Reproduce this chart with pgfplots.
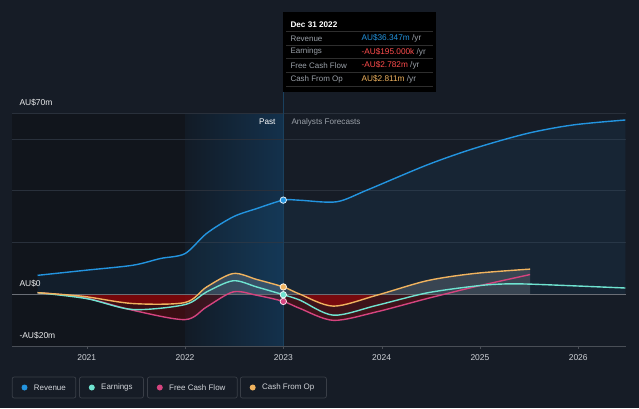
\documentclass[border=0pt]{standalone}
\usepackage{pgfplots}
\pgfplotsset{compat=1.18}
\usepgfplotslibrary{fillbetween}
\usepackage{fontspec}
\setmainfont{Liberation Sans}

\definecolor{bg}{HTML}{161C26}
\definecolor{bgdark}{HTML}{11151C}
\definecolor{gridc}{HTML}{29303B}
\definecolor{rev}{HTML}{2394DF}
\definecolor{earn}{HTML}{6FE3D0}
\definecolor{fcf}{HTML}{D5447F}
\definecolor{cfo}{HTML}{F0B35F}
\definecolor{txt}{HTML}{D0D3D8}
\definecolor{dimtxt}{HTML}{9AA0A8}
\definecolor{negred}{HTML}{FF4D4D}
\definecolor{hlL}{HTML}{121B26}
\definecolor{hlR}{HTML}{13314C}
\definecolor{zeroc}{HTML}{6A6E76}
\pagecolor{bg}

\begin{document}%
\begin{tikzpicture}[x=1bp,y=1bp]
\begin{axis}[
    set layers,
    at={(12bp,62bp)}, anchor=south west,
    scale only axis, width=614.4bp, height=233bp,
    xmin=2020.24, xmax=2026.49, ymin=-20, ymax=70,
    axis x line*=bottom, axis y line*=left,
    x axis line style={draw=white!22!bg, line width=0.9pt},
    y axis line style={draw=none},
    xtick={2021,2022,2023,2024,2025,2026},
    xticklabel style={font=\fontsize{8.5}{10}\selectfont, text=txt, yshift=-2bp},
    /pgf/number format/1000 sep={},
    /pgf/number format/assume math mode=true,
    major tick length=3bp, tick align=outside,
    x tick style={draw=white!22!bg},
    ytick={-20,0,20,40,60,70}, yticklabels={},
    y tick style={draw=none},
    ymajorgrids, grid style={draw=gridc, line width=0.6pt},
    clip=false,
]
\begin{pgfonlayer}{axis background}
\fill[bgdark] (axis cs:2020.24,-20) rectangle (axis cs:2022,70);
\shade[left color=hlL, right color=hlR] (axis cs:2022,-20) rectangle (axis cs:2023,70);
\end{pgfonlayer}
\draw[rev!30!bg, line width=0.6pt] (axis cs:2023,-20) -- (axis cs:2023,70);

\addplot[draw=none, name path=zero] coordinates {(2020.5,0) (2026.48,0)};
\addplot[draw=none, name path=zerob] coordinates {(2020.5,0) (2025.51,0)};

\addplot[rev, line width=1.4pt, smooth, tension=0.5, name path=rev] coordinates {
(2020.50,7.3) (2021.00,9.3) (2021.47,11.2) (2021.75,13.8) (2022.00,15.7)
(2022.22,23.5) (2022.49,29.9) (2022.73,33.1) (2023.00,36.35) (2023.17,36.3)
(2023.54,35.7) (2023.85,40.2) (2024.46,49.9) (2024.94,56.3) (2025.48,62.1)
(2025.95,65.4) (2026.48,67.3)};

\addplot[draw=none, smooth, tension=0.5, name path=fcf] coordinates {
(2020.50,0.6) (2020.96,-1.2) (2021.47,-6.2) (2022.00,-9.8) (2022.22,-4.9)
(2022.49,0.9) (2022.73,-0.4) (2023.00,-2.78) (2023.17,-5.5) (2023.51,-10.1)
(2023.95,-6.8) (2024.46,-1.7) (2024.94,2.8) (2025.51,7.6)};

\addplot[draw=none, smooth, tension=0.5, name path=cfo] coordinates {
(2020.50,0.6) (2020.96,-0.8) (2021.47,-3.6) (2022.00,-3.2) (2022.22,2.8)
(2022.49,8.0) (2022.73,5.7) (2023.00,2.81) (2023.17,0.0) (2023.51,-4.6)
(2023.95,-0.4) (2024.46,5.2) (2024.94,8.0) (2025.51,9.7)};

\addplot[fill=rev, fill opacity=0.08, draw=none] fill between[of=rev and zero];

\begin{scope}
\clip (axis cs:2020.24,-20) rectangle (axis cs:2026.49,0);
\addplot[fill=red!60!black, fill opacity=0.3, draw=none] fill between[of=fcf and zerob, on layer=main];
\addplot[fill=red!75!black, fill opacity=0.45, draw=none] fill between[of=cfo and zerob, on layer=main];
\end{scope}
\begin{scope}
\clip (axis cs:2020.24,0) rectangle (axis cs:2026.49,20);
\addplot[fill=white, fill opacity=0.15, draw=none] fill between[of=cfo and zerob, on layer=main];
\end{scope}

\draw[zeroc, line width=1.4pt] (axis cs:2020.24,0) -- (axis cs:2026.49,0);

\addplot[fcf, line width=1.4pt, smooth, tension=0.5] coordinates {
(2020.50,0.6) (2020.96,-1.2) (2021.47,-6.2) (2022.00,-9.8) (2022.22,-4.9)
(2022.49,0.9) (2022.73,-0.4) (2023.00,-2.78) (2023.17,-5.5) (2023.51,-10.1)
(2023.95,-6.8) (2024.46,-1.7) (2024.94,2.8) (2025.51,7.6)};
\addplot[earn, line width=1.4pt, smooth, tension=0.5] coordinates {
(2020.50,0.6) (2021.00,-1.7) (2021.47,-5.9) (2022.00,-4.0) (2022.22,0.9)
(2022.49,5.2) (2022.73,2.8) (2023.00,-0.2) (2023.17,-2.3) (2023.51,-8.1)
(2023.95,-4.3) (2024.46,0.5) (2024.94,3.1) (2025.20,3.9) (2025.51,3.9)
(2026.48,2.4)};
\addplot[cfo, line width=1.4pt, smooth, tension=0.5] coordinates {
(2020.50,0.6) (2020.96,-0.8) (2021.47,-3.6) (2022.00,-3.2) (2022.22,2.8)
(2022.49,8.0) (2022.73,5.7) (2023.00,2.81) (2023.17,0.0) (2023.51,-4.6)
(2023.95,-0.4) (2024.46,5.2) (2024.94,8.0) (2025.51,9.7)};

\addplot[only marks, mark=*, mark size=3.2bp, mark options={fill=rev, draw=white!85!rev, line width=0.8pt}] coordinates {(2023,36.347)};
\addplot[only marks, mark=*, mark size=3.2bp, mark options={fill=cfo, draw=white!85!cfo, line width=0.8pt}] coordinates {(2023,2.811)};
\addplot[only marks, mark=*, mark size=3.2bp, mark options={fill=earn, draw=white!85!earn, line width=0.8pt}] coordinates {(2023,-0.195)};
\addplot[only marks, mark=*, mark size=3.2bp, mark options={fill=fcf, draw=white!85!fcf, line width=0.8pt}] coordinates {(2023,-2.782)};
\end{axis}

% y labels
\node[anchor=west, text=white!92!bg, font=\fontsize{8.5}{10}\selectfont] at (16,305) {AU\$70m};
\node[anchor=west, text=white!92!bg, font=\fontsize{8.5}{10}\selectfont] at (16,124) {AU\$0};
\node[anchor=west, text=white!92!bg, font=\fontsize{8.5}{10}\selectfont] at (16,72) {-AU\$20m};

% past / forecast
\node[anchor=east, text=white, font=\fontsize{8.2}{10}\selectfont] at (279,286) {Past};
\node[anchor=west, text=dimtxt, font=\fontsize{8.2}{10}\selectfont] at (288,286) {Analysts Forecasts};

% tooltip
\draw[rev!30!bg, line width=0.6pt] (283,316) -- (283,295);
\fill[black] (283,316) rectangle (436,396);
\foreach \yy in {376.3,363,349.3,335.7,322} {\draw[white!18!black, line width=0.5pt] (286,\yy) -- (433,\yy);}
\node[anchor=west, text=white, font=\bfseries\fontsize{8.2}{10}\selectfont] at (287,383.5) {Dec 31 2022};
\node[anchor=west, text=dimtxt, font=\fontsize{8}{10}\selectfont] at (287,369.7) {Revenue};
\node[anchor=west, text=dimtxt, font=\fontsize{8}{10}\selectfont] at (287,356.2) {Earnings};
\node[anchor=west, text=dimtxt, font=\fontsize{8}{10}\selectfont] at (287,342.5) {Free Cash Flow};
\node[anchor=west, text=dimtxt, font=\fontsize{8}{10}\selectfont] at (287,329) {Cash From Op};
\node[anchor=west, font=\fontsize{8.3}{10}\selectfont] at (358,369.7) {\textcolor{rev}{AU\$36.347m} \textcolor{dimtxt}{/yr}};
\node[anchor=west, font=\fontsize{8.3}{10}\selectfont] at (358,356.2) {\textcolor{negred}{-AU\$195.000k} \textcolor{dimtxt}{/yr}};
\node[anchor=west, font=\fontsize{8.3}{10}\selectfont] at (358,342.5) {\textcolor{negred}{-AU\$2.782m} \textcolor{dimtxt}{/yr}};
\node[anchor=west, font=\fontsize{8.3}{10}\selectfont] at (358,329) {\textcolor{cfo}{AU\$2.811m} \textcolor{dimtxt}{/yr}};

% legend
\foreach \xa/\xb/\col/\lab in {12.2/75.8/rev/Revenue, 79.5/143.4/earn/Earnings, 147.5/237.2/fcf/Free Cash Flow, 240.4/326.4/cfo/Cash From Op} {
  \draw[draw=white!15!bg, line width=0.7pt, rounded corners=2bp] (\xa,10) rectangle (\xb,31);
  \fill[\col] (\xa+12.3,20.5) circle (3bp);
  \node[anchor=west, text=txt, font=\fontsize{8}{10}\selectfont, inner sep=0pt] at (\xa+21.5,20.5) {\lab};
}
\pgfresetboundingbox
\useasboundingbox (0,0) rectangle (639,408);
\end{tikzpicture}%
\end{document}
